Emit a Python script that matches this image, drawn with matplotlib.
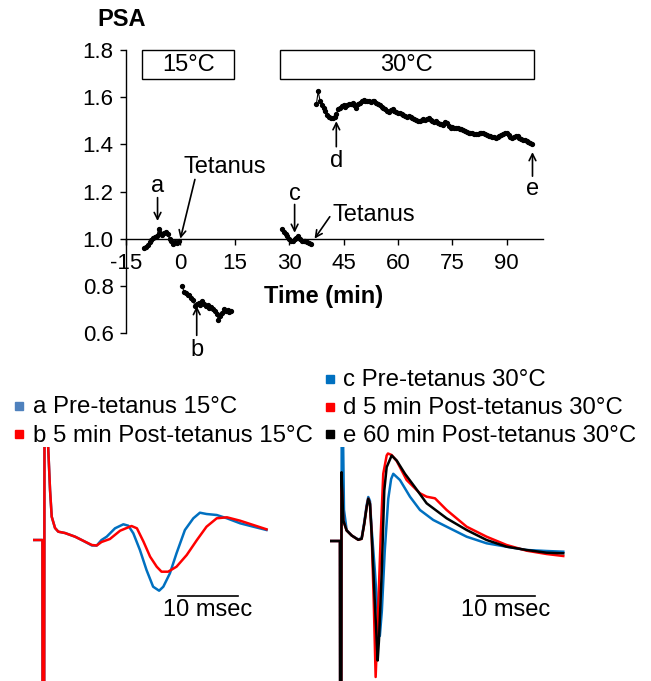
import numpy as np
import matplotlib
matplotlib.use("Agg")
import matplotlib.pyplot as plt
from matplotlib.patches import Rectangle
from matplotlib.lines import Line2D

plt.rcParams['font.family'] = ['Liberation Sans', 'DejaVu Sans']
plt.rcParams['axes.unicode_minus'] = False

# ---------------- Data: PSA time course ----------------
pre15_start, pre15_step = -10.0, 0.5
pre15_psa = [0.962, 0.965, 0.972, 0.985, 0.995, 1.004, 1.008, 1.012, 1.040, 1.022,
             1.015, 1.025, 1.030, 1.018, 1.000, 0.990, 0.976, 0.985, 0.980, 0.990]

post15_start, post15_step = 0.5, 0.5
post15_psa = [0.798, 0.775, 0.770, 0.762, 0.760, 0.748, 0.740, 0.714, 0.722, 0.728,
              0.720, 0.735, 0.723, 0.714, 0.718, 0.707, 0.712, 0.700, 0.692, 0.680,
              0.657, 0.672, 0.685, 0.700, 0.695, 0.696, 0.690, 0.692]

pre30_start, pre30_step = 28.0, 0.5
pre30_psa = [1.039, 1.030, 1.018, 1.010, 0.997, 0.990, 0.992, 0.997, 1.002, 1.010,
             0.997, 0.992, 0.990, 0.988, 0.985, 0.980, 0.978]

post30_start, post30_step = 37.5, 0.5
post30_psa = [1.570, 1.625, 1.585, 1.565, 1.555, 1.540, 1.525, 1.515, 1.512, 1.513,
              1.515, 1.530, 1.548, 1.556, 1.562, 1.565, 1.560, 1.568, 1.570, 1.572,
              1.576, 1.565, 1.553, 1.570, 1.577, 1.582, 1.587, 1.585, 1.582, 1.584,
              1.580, 1.583, 1.582, 1.575, 1.569, 1.565, 1.560, 1.556, 1.550, 1.540,
              1.535, 1.545, 1.548, 1.542, 1.538, 1.534, 1.533, 1.528, 1.524, 1.520,
              1.518, 1.521, 1.515, 1.512, 1.508, 1.503, 1.498, 1.499, 1.503, 1.506,
              1.502, 1.508, 1.512, 1.505, 1.497, 1.494, 1.498, 1.490, 1.487, 1.485,
              1.483, 1.495, 1.490, 1.478, 1.470, 1.472, 1.470, 1.469, 1.468, 1.466,
              1.463, 1.460, 1.458, 1.452, 1.449, 1.448, 1.446, 1.444, 1.442, 1.445,
              1.447, 1.448, 1.449, 1.443, 1.438, 1.436, 1.434, 1.432, 1.430, 1.428,
              1.432, 1.436, 1.441, 1.443, 1.446, 1.449, 1.440, 1.432, 1.428, 1.430,
              1.434, 1.435, 1.428, 1.422, 1.420, 1.418, 1.414, 1.410, 1.404, 1.400]

x_ticks = [-15, 0, 15, 30, 45, 60, 75, 90]
y_ticks = [0.6, 0.8, 1.0, 1.2, 1.4, 1.6, 1.8]

# ---------------- Data: field potential traces (ms, arbitrary units) ----------------
L_a_t = [-1.7, -0.15, -0.1, 0.1, 0.25, 0.6, 0.83, 1.12, 1.4, 1.95, 2.5, 3.6, 5.3, 6.4, 8.1,
         8.9, 9.7, 10.56, 11.95, 13.34, 14.17, 15.0, 16.1, 17.2, 18.3, 19.3, 20.0, 21.1, 22.2,
         23.6, 25.0, 26.1, 27.2, 28.9, 30.6, 32.8, 35.0, 37.2]
L_a_v = [0, 0, -40, -40, 40, 12, 9.0, 5.0, 2.33, 1.2, 0.83, 0.7, 0.33, 0.0, -0.55,
         -0.55, 0.0, 0.33, 1.17, 1.57, 1.43, 0.67, -1.0, -3.0, -4.67, -5.07, -4.67, -3.33, -1.33,
         1.0, 2.17, 2.73, 2.6, 2.5, 2.17, 1.67, 1.33, 1.0]
L_b_t = [-1.7, -0.15, -0.1, 0.1, 0.25, 0.6, 0.83, 1.12, 1.4, 1.95, 2.5, 3.6, 5.3, 6.4, 8.1,
         8.9, 9.7, 11.1, 12.8, 14.7, 15.6, 16.7, 17.8, 18.9, 19.7, 20.8, 22.2, 23.9, 25.6,
         27.2, 28.9, 30.6, 32.8, 35.0, 37.2]
L_b_v = [0, 0, -40, -40, 40, 12, 9.0, 5.0, 2.33, 1.2, 0.83, 0.7, 0.33, 0.0, -0.5,
         -0.55, -0.2, 0.1, 0.93, 1.4, 1.17, -0.17, -1.67, -2.67, -3.17, -3.17, -2.67, -1.5, 0.0,
         1.33, 2.17, 2.27, 1.93, 1.5, 1.07]

R_c_t = [-1.84, -0.12, -0.05, 0.05, 0.2, 0.57, 1.03, 1.9, 3.03, 3.62, 4.07, 4.48, 4.76, 5.05,
         5.34, 5.9, 6.4, 6.75, 7.1, 7.6, 8.2, 8.7, 9.07, 10.22, 11.95, 13.67, 15.97, 18.27,
         21.72, 25.16, 28.61, 32.06, 35.5, 38.38]
R_c_v = [0, 0, -40, -40, 20, 3.1, 1.1, 0.55, 0.15, 0.3, 1.9, 3.6, 4.4, 4.0,
         1.2, -3.0, -7.5, -9.5, -7.0, -1.0, 4.2, 6.2, 6.72, 6.1, 4.43, 3.1, 2.1, 1.43,
         0.43, -0.23, -0.57, -0.9, -1.0, -1.07]
R_d_t = [-1.84, -0.12, -0.05, 0.05, 0.15, 0.45, 1.03, 1.9, 3.03, 3.62, 4.07, 4.48, 4.76, 5.05,
         5.34, 5.7, 6.03, 6.48, 6.9, 7.34, 7.93, 8.15, 8.79, 9.66, 11.37, 13.67, 14.82, 16.26,
         18.27, 21.72, 25.16, 28.61, 32.06, 35.5, 38.38]
R_d_v = [0, 0, -40, -40, 6.0, 2.05, 1.05, 0.55, 0.12, 0.22, 1.72, 3.38, 4.22, 3.72,
         0.72, -6.0, -13.6, -6.6, 0.5, 6.72, 8.55, 8.75, 8.6, 8.0, 6.1, 4.77, 4.43, 4.27,
         3.1, 1.43, 0.43, -0.4, -0.97, -1.3, -1.5]
R_e_t = [-1.84, -0.12, -0.05, 0.05, 0.15, 0.45, 1.03, 1.9, 3.03, 3.62, 4.07, 4.48, 4.76, 5.05,
         5.34, 5.79, 6.21, 6.38, 6.6, 7.07, 7.52, 7.93, 8.79, 9.66, 11.09, 12.81, 14.82, 18.27,
         21.72, 25.16, 28.61, 32.06, 35.5, 38.38]
R_e_v = [0, 0, -40, -40, 6.88, 2.05, 1.05, 0.55, 0.12, 0.22, 1.72, 3.38, 4.22, 3.72,
         0.72, -4.95, -9.95, -11.95, -9.95, -3.25, 5.05, 7.38, 8.55, 8.05, 6.72, 5.38, 3.77, 2.27,
         1.1, 0.1, -0.57, -0.9, -1.17, -1.23]

left_labels = ["a Pre-tetanus 15°C", "b 5 min Post-tetanus 15°C"]
left_colors = ["#4F81BD", "#FF0000"]
right_labels = ["c Pre-tetanus 30°C", "d 5 min Post-tetanus 30°C", "e 60 min Post-tetanus 30°C"]
right_colors = ["#0070C0", "#FF0000", "#000000"]

BLUE = "#0070C0"
RED = "#FF0000"
FS = 17
FS_LEG = 17.3

W, H = 651, 681
fig = plt.figure(figsize=(W / 100, H / 100), dpi=100)

# ---------------- Top panel ----------------
ax = fig.add_axes([126 / W, (H - 333) / H, (543 - 126) / W, (333 - 50) / H])
ax.set_xlim(-15, 100)
ax.set_ylim(0.6, 1.8)
for s in ['top', 'right']:
    ax.spines[s].set_visible(False)
ax.spines['bottom'].set_position(('data', 1.0))
ax.spines['left'].set_linewidth(1.0)
ax.spines['bottom'].set_linewidth(1.0)
ax.set_xticks(x_ticks)
ax.set_yticks(y_ticks)
ax.set_yticklabels([f"{v:.1f}" for v in y_ticks])
ax.tick_params(axis='both', direction='out', length=4, width=1.0, labelsize=16)
ax.tick_params(axis='x', pad=6)
ax.tick_params(axis='y', pad=5)

def seg(start, step, vals):
    t = start + step * np.arange(len(vals))
    ax.plot(t, vals, '-o', color='black', lw=0.8, ms=2.8, clip_on=False)

seg(pre15_start, pre15_step, pre15_psa)
seg(post15_start, post15_step, post15_psa)
seg(pre30_start, pre30_step, pre30_psa)
seg(post30_start, post30_step, post30_psa)

# temperature boxes
for (x0, x1, lab) in [(-10.6, 14.9, "15°C"), (27.4, 97.5, "30°C")]:
    ax.add_patch(Rectangle((x0, 1.677), x1 - x0, 1.8 - 1.677, fill=False, ec='black', lw=1.0, clip_on=False))
    ax.text((x0 + x1) / 2, (1.677 + 1.8) / 2, lab, ha='center', va='center', fontsize=FS)

ap = dict(arrowstyle='->', color='black', lw=1.2, shrinkA=0, shrinkB=0, mutation_scale=12)
ax.annotate("", xy=(-6.3, 1.075), xytext=(-6.3, 1.174), arrowprops=ap, annotation_clip=False)
ax.text(-6.3, 1.223, "a", ha='center', va='center', fontsize=FS)
ax.annotate("", xy=(0.0, 1.0), xytext=(4.0, 1.251), arrowprops=ap, annotation_clip=False)
ax.text(12.3, 1.305, "Tetanus", ha='center', va='center', fontsize=FS)
ax.annotate("", xy=(31.5, 1.025), xytext=(31.5, 1.145), arrowprops=ap, annotation_clip=False)
ax.text(31.5, 1.188, "c", ha='center', va='center', fontsize=FS)
ax.annotate("", xy=(37.0, 1.0), xytext=(41.2, 1.093), arrowprops=ap, annotation_clip=False)
ax.text(42.0, 1.10, "Tetanus", ha='left', va='center', fontsize=FS)
ax.annotate("", xy=(43.0, 1.498), xytext=(43.0, 1.39), arrowprops=ap, annotation_clip=False)
ax.text(43.0, 1.329, "d", ha='center', va='center', fontsize=FS)
ax.annotate("", xy=(97.1, 1.367), xytext=(97.1, 1.265), arrowprops=ap, annotation_clip=False)
ax.text(97.0, 1.209, "e", ha='center', va='center', fontsize=FS)
ax.annotate("", xy=(4.5, 0.714), xytext=(4.5, 0.59), arrowprops=ap, annotation_clip=False)
ax.text(4.5, 0.53, "b", ha='center', va='center', fontsize=FS)

ax.text(39.4, 0.755, "Time (min)", ha='center', va='center', fontsize=FS, fontweight='bold')
fig.text(122 / W, 1 - 20 / H, "PSA", ha='center', va='center', fontsize=FS, fontweight='bold')

# ---------------- Bottom-left traces ----------------
axl = fig.add_axes([33 / W, 0, (300 - 33) / W, (681 - 447) / H])
axl.set_xlim(-1.72, -1.72 + 267 / 6)
axl.set_ylim(-14.1, 9.3)
axl.axis('off')
axl.plot(L_a_t, L_a_v, color=BLUE, lw=1.8)
axl.plot(L_b_t, L_b_v, color=RED, lw=1.8)
axl.plot([22.45, 32.45], [-5.57, -5.57], color='black', lw=1.2)
axl.text(27.45, -7.0, "10 msec", ha='center', va='center', fontsize=FS)

# ---------------- Bottom-right traces ----------------
axr = fig.add_axes([330 / W, 0, (620 - 330) / W, (681 - 447) / H])
axr.set_xlim(-1.84, -1.84 + 290 / 5.8)
axr.set_ylim(-14.0, 9.4)
axr.axis('off')
axr.plot(R_c_t, R_c_v, color=BLUE, lw=1.8)
axr.plot(R_d_t, R_d_v, color=RED, lw=1.8)
axr.plot(R_e_t, R_e_v, color='black', lw=1.8)
axr.plot([23.45, 33.45], [-5.47, -5.47], color='black', lw=1.2)
axr.text(28.45, -6.9, "10 msec", ha='center', va='center', fontsize=FS)

# ---------------- Legends ----------------
def legend_rows(xsq, xtxt, baselines, labels, colors):
    for yb, lab, col in zip(baselines, labels, colors):
        fig.add_artist(Line2D([xsq / W], [1 - (yb - 8) / H], marker='s', ms=5.5, color=col,
                              mec=col, ls='none', transform=fig.transFigure))
        fig.text(xtxt / W, 1 - yb / H, lab, ha='left', va='baseline', fontsize=FS_LEG)

legend_rows(18.5, 33, [413.5, 441.5], left_labels, left_colors)
legend_rows(329.5, 343, [386.5, 414.5, 441.5], right_labels, right_colors)

fig.savefig("out.png", dpi=100)
